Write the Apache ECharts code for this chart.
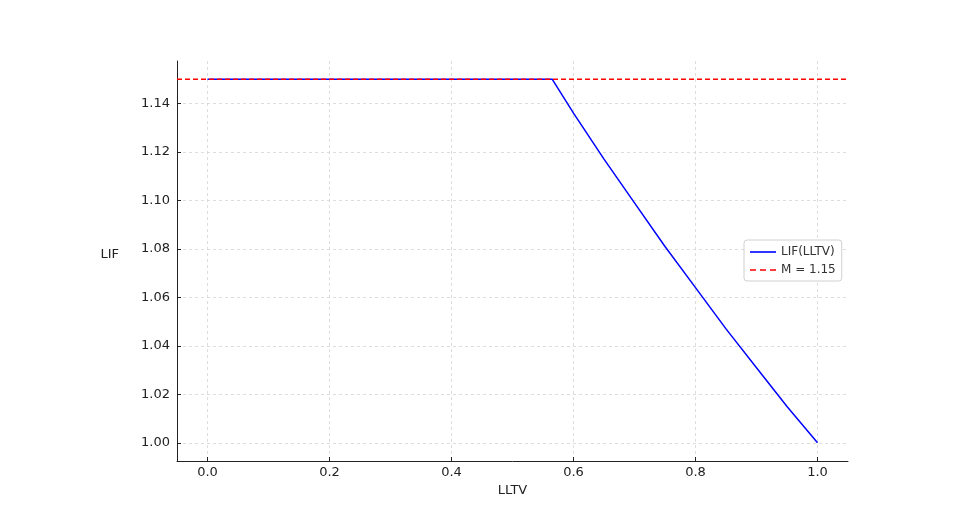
<!DOCTYPE html>
<html><head><meta charset="utf-8">
<script src="https://cdn.jsdelivr.net/npm/echarts@6/dist/echarts.min.js"></script>
<style>html,body{margin:0;padding:0;background:#fff}#c{width:964px;height:516px}</style>
</head><body><div id="c"></div>
<script>
const lltv = [0.0, 0.565, 0.6, 0.65, 0.7, 0.75, 0.8, 0.85, 0.9, 0.95, 1.0];
const lif = [1.15, 1.15, 1.136, 1.117, 1.099, 1.081, 1.064, 1.047, 1.031, 1.015, 1.0];
const capX = [-0.05, 1.05];
const capM = [1.15, 1.15];
const xTicks = [0.0, 0.2, 0.4, 0.6, 0.8, 1.0];
const yTicks = [1.00, 1.02, 1.04, 1.06, 1.08, 1.10, 1.12, 1.14];

const font = 'DejaVu Sans';
const chart = echarts.init(document.getElementById('c'));
chart.setOption({
  animation: false,
  textStyle: {fontFamily: font},
  grid: {left: 177, right: 116, top: 61, bottom: 55, containLabel: false},
  legend: {
    orient: 'vertical', left: 744, top: 240,
    backgroundColor: '#fff', borderColor: '#d0d0d0', borderWidth: 1, borderRadius: 3,
    padding: [6, 6, 5, 6], itemGap: 6, itemWidth: 26, itemHeight: 9,
    textStyle: {fontFamily: font, fontSize: 12, color: '#333'},
    data: [
      {name: 'LIF(LLTV)', icon: 'path://M0,3L26,3L26,4.6L0,4.6Z'},
      {name: 'M = 1.15', icon: 'path://M0,3L6,3L6,4.6L0,4.6ZM10,3L16,3L16,4.6L10,4.6ZM20,3L26,3L26,4.6L20,4.6Z'}
    ]
  },
  xAxis: {
    type: 'value', min: -0.05, max: 1.05,
    name: 'LLTV', nameLocation: 'middle', nameGap: 22,
    nameTextStyle: {fontFamily: font, fontSize: 13, color: '#222'},
    axisLine: {show: true, onZero: false, lineStyle: {color: '#222', width: 1}},
    axisTick: {show: true, inside: true, length: 4, customValues: xTicks, lineStyle: {color: '#222'}},
    axisLabel: {customValues: xTicks, margin: 5, fontFamily: font, fontSize: 13, color: '#222',
      formatter: v => v.toFixed(1)},
    splitLine: {show: true, lineStyle: {color: '#d5d5d5', type: [3, 3], width: 0.8}}
  },
  yAxis: {
    type: 'value', min: 0.9925, max: 1.1575,
    name: 'LIF', nameLocation: 'middle', nameGap: 58, nameRotate: 0,
    nameTextStyle: {fontFamily: font, fontSize: 13, color: '#222', verticalAlign: 'bottom'},
    axisLine: {show: true, onZero: false, lineStyle: {color: '#222', width: 1}},
    axisTick: {show: true, inside: true, length: 4, customValues: yTicks, lineStyle: {color: '#222'}},
    axisLabel: {customValues: yTicks, margin: 7, fontFamily: font, fontSize: 13, color: '#222',
      formatter: v => v.toFixed(2)},
    splitLine: {show: true, lineStyle: {color: '#d5d5d5', type: [3, 3], width: 0.8}}
  },
  series: [
    {
      name: 'LIF(LLTV)', type: 'line', showSymbol: false, symbol: 'none',
      data: lltv.map((x, i) => [x, lif[i]]),
      lineStyle: {color: '#0000ff', width: 1.5}, itemStyle: {color: '#0000ff'}, z: 2
    },
    {
      name: 'M = 1.15', type: 'line', showSymbol: false, symbol: 'none',
      data: capX.map((x, i) => [x, capM[i]]),
      lineStyle: {color: '#ff0000', width: 1.5, type: [5, 3]}, itemStyle: {color: '#ff0000'}, z: 3
    }
  ]
});
</script></body></html>
